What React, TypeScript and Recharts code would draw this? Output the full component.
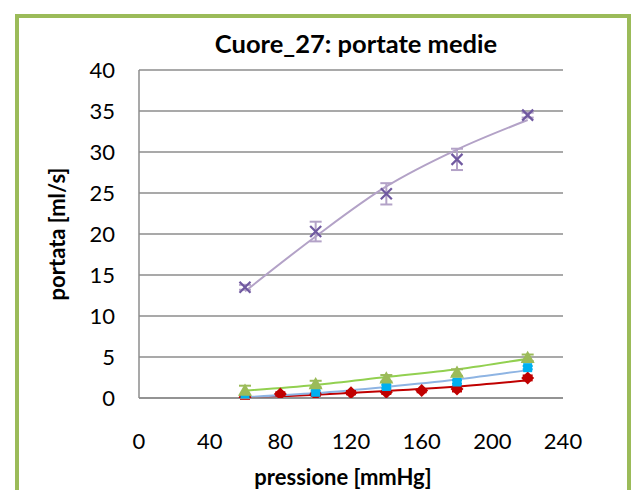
import { ComposedChart, Scatter, Line, XAxis, YAxis, CartesianGrid, ErrorBar } from 'recharts';

const xTicks = [0, 40, 80, 120, 160, 200, 240];
const yTicks = [0, 5, 10, 15, 20, 25, 30, 35, 40];

// measured points (pressione -> portata) with error
const pressioni = [60, 100, 140, 180, 220];
const pressioniRed = [60, 80, 100, 120, 140, 160, 180, 220];

const purpleY = [13.5, 20.3, 24.9, 29.1, 34.5];
const purpleErr = [0.3, 1.2, 1.3, 1.3, 0.3];
const greenY = [0.9, 1.7, 2.4, 3.1, 4.9];
const greenErr = [0.6, 0.4, 0.4, 0.4, 0.4];
const blueY = [0.1, 0.7, 1.4, 1.95, 3.7];
const blueErr = [0.1, 0.2, 0.2, 0.2, 0.2];
const redY = [0.1, 0.5, 0.45, 0.65, 0.7, 0.9, 1.1, 2.45];
const redErr = [0.2, 0.2, 0.2, 0.2, 0.2, 0.2, 0.3, 0.3];

// trendlines
const purpleTrend = [13.0, 19.7, 25.8, 30.3, 33.9];
const greenTrend = [0.9, 1.6, 2.55, 3.5, 4.8];
const blueTrend = [0.1, 0.6, 1.35, 2.25, 3.4];
const redTrend = [0.0, 0.4, 0.85, 1.4, 2.15];

const pts = (xs: number[], ys: number[], errs?: number[]) =>
  xs.map((x, i) => ({ x, y: ys[i], err: errs ? errs[i] : 0 }));

const XMark = (props: any) => {
  const { cx, cy } = props;
  const s = 5.5;
  return (
    <g stroke="#7059a0" strokeWidth={2.2}>
      <line x1={cx - s} y1={cy - s} x2={cx + s} y2={cy + s} />
      <line x1={cx - s} y1={cy + s} x2={cx + s} y2={cy - s} />
    </g>
  );
};

const Tri = (props: any) => {
  const { cx, cy } = props;
  const s = 7;
  return <polygon points={`${cx},${cy - s} ${cx + s},${cy + s * 0.75} ${cx - s},${cy + s * 0.75}`} fill="#9bbb59" />;
};

const Sq = (props: any) => {
  const { cx, cy } = props;
  return <rect x={cx - 4.5} y={cy - 4.5} width={9} height={9} fill="#00b0f0" />;
};

const Dia = (props: any) => {
  const { cx, cy } = props;
  const s = 6.5;
  return <polygon points={`${cx},${cy - s} ${cx + s},${cy} ${cx},${cy + s} ${cx - s},${cy}`} fill="#c00000" />;
};

const font = 'Lato, "Open Sans", sans-serif';
const grey = '#8c8c8c';

export default function App() {
  return (
    <div style={{ position: 'fixed', left: 0, top: 0, width: 634, height: 490, overflow: 'hidden', background: '#fff', fontFamily: font }}>
      <div style={{ position: 'absolute', left: 15, top: 14, width: 616, height: 540, border: '4px solid #9bbb59', boxSizing: 'border-box' }} />
      <div style={{ position: 'absolute', left: 156, width: 400, top: 28, textAlign: 'center', fontWeight: 700, fontSize: 25.5, lineHeight: '30px', color: '#000' }}>
        Cuore_27: portate medie
      </div>
      <div style={{ position: 'absolute', left: 56, top: 234, transform: 'translate(-50%, -50%) rotate(-90deg)', whiteSpace: 'nowrap', fontWeight: 700, fontSize: 22, color: '#000' }}>
        portata [ml/s]
      </div>
      <div style={{ position: 'absolute', left: 343, top: 476, transform: 'translate(-50%, -50%)', whiteSpace: 'nowrap', fontWeight: 700, fontSize: 22, color: '#000' }}>
        pressione [mmHg]
      </div>
      <div style={{ position: 'absolute', left: 0, top: 0 }}>
        <ComposedChart width={634} height={490} margin={{ top: 70, right: 71, left: 79, bottom: 32 }}>
          <CartesianGrid vertical={false} stroke={grey} strokeWidth={1.5} />
          <XAxis
            type="number"
            dataKey="x"
            domain={[0, 240]}
            ticks={xTicks}
            height={60}
            tickSize={0}
            tickMargin={35}
            axisLine={{ stroke: grey, strokeWidth: 1.5 }}
            tick={{ fontSize: 22, fill: '#000', fontFamily: font }}
            allowDataOverflow
          />
          <YAxis
            type="number"
            dataKey="y"
            domain={[0, 40]}
            ticks={yTicks}
            width={60}
            tickSize={0}
            tickMargin={24}
            axisLine={{ stroke: grey, strokeWidth: 1.5 }}
            tick={{ fontSize: 22, fill: '#000', fontFamily: font }}
            allowDataOverflow
          />
          <Line data={pts(pressioni, redTrend)} dataKey="y" type="monotone" stroke="#c00000" strokeWidth={2} dot={false} isAnimationActive={false} />
          <Line data={pts(pressioni, blueTrend)} dataKey="y" type="monotone" stroke="#8eb4e3" strokeWidth={2} dot={false} isAnimationActive={false} />
          <Line data={pts(pressioni, greenTrend)} dataKey="y" type="monotone" stroke="#92d050" strokeWidth={2} dot={false} isAnimationActive={false} />
          <Line data={pts(pressioni, purpleTrend)} dataKey="y" type="monotone" stroke="#b3a2c7" strokeWidth={2} dot={false} isAnimationActive={false} />
          <Scatter data={pts(pressioniRed, redY, redErr)} dataKey="y" shape={<Dia />} isAnimationActive={false}>
            <ErrorBar dataKey="err" direction="y" width={5} stroke="#c00000" strokeWidth={2} />
          </Scatter>
          <Scatter data={pts(pressioni, blueY, blueErr)} dataKey="y" shape={<Sq />} isAnimationActive={false}>
            <ErrorBar dataKey="err" direction="y" width={5} stroke="#00b0f0" strokeWidth={2} />
          </Scatter>
          <Scatter data={pts(pressioni, greenY, greenErr)} dataKey="y" shape={<Tri />} isAnimationActive={false}>
            <ErrorBar dataKey="err" direction="y" width={6} stroke="#9bbb59" strokeWidth={2} />
          </Scatter>
          <Scatter data={pts(pressioni, purpleY, purpleErr)} dataKey="y" shape={<XMark />} isAnimationActive={false}>
            <ErrorBar dataKey="err" direction="y" width={6} stroke="#b3a2c7" strokeWidth={2} />
          </Scatter>
        </ComposedChart>
      </div>
    </div>
  );
}
